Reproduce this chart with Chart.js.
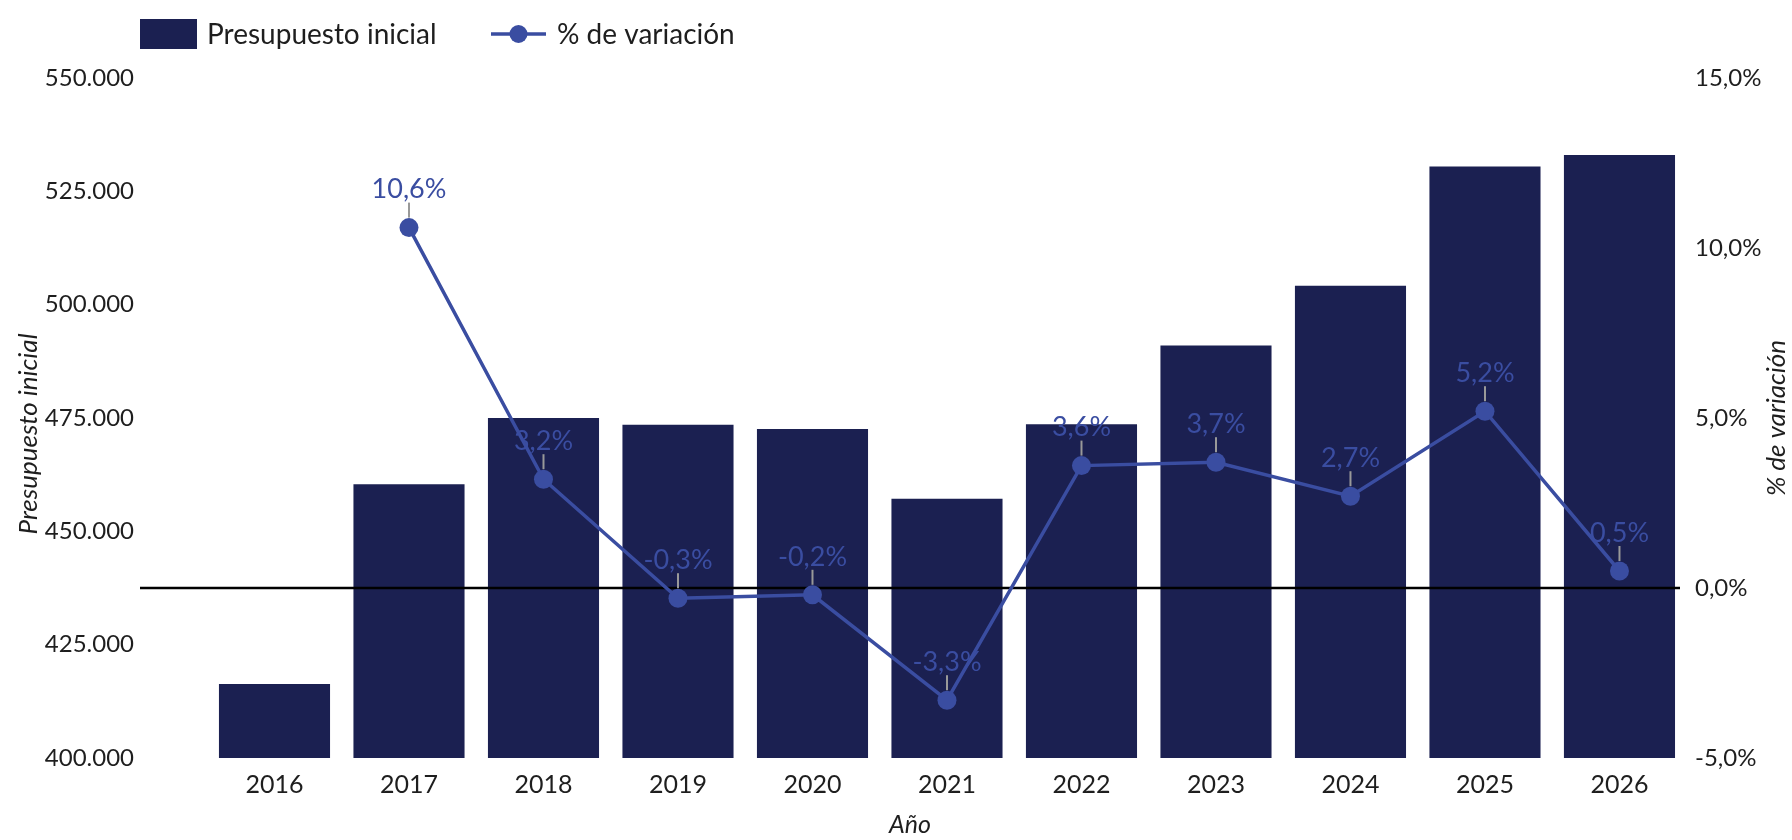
<!DOCTYPE html>
<html>
<head>
<meta charset="utf-8">
<script src="https://cdn.jsdelivr.net/npm/chart.js@4.4.0/dist/chart.umd.min.js"></script>
<style>
  html, body { margin: 0; padding: 0; background: #fff; }
  #wrap { width: 1792px; height: 840px; }
</style>
</head>
<body>
<div id="wrap"><canvas id="myChart" width="1792" height="840"></canvas></div>
<script>
(function () {
  'use strict'

// datos
var anios = [2016, 2017, 2018, 2019, 2020, 2021, 2022, 2023, 2024, 2025, 2026]
var presupuesto = [416300, 460400, 475000, 473500, 472600, 457200, 473600, 491000, 504200, 530500, 533000]
var variacion = [null, 10.6, 3.2, -0.3, -0.2, -3.3, 3.6, 3.7, 2.7, 5.2, 0.5]

var ticksIzq = [400000, 425000, 450000, 475000, 500000, 525000, 550000]
var ticksDer = [-5, 0, 5, 10, 15]

var colorBarra = '#1b2051'
var colorLinea = '#3a4da1'
var colorTexto = '#1e1e1e'

Chart.defaults.font.family = 'Lato'
Chart.defaults.color = colorTexto

function miles(v) {
  return String(Math.round(v)).replace(/\B(?=(\d{3})+(?!\d))/g, '.')
}
function pct(v) {
  return v.toFixed(1).replace('.', ',') + '%'
}

// linea del cero, encima de las barras y debajo de la linea
const lineaCero = {
  id: 'lineaCero',
  afterDatasetDraw(chart, args) {
    if (chart.data.datasets[args.index].type !== 'bar') return
    const ctx = chart.ctx
    const y = chart.scales.y1.getPixelForValue(0)
    ctx.save()
    ctx.strokeStyle = '#000'
    ctx.lineWidth = 2.5
    ctx.beginPath()
    ctx.moveTo(chart.chartArea.left, y)
    ctx.lineTo(chart.chartArea.right, y)
    ctx.stroke()
    ctx.restore()
  }
}

// etiquetas de % con su trazo gris
const etiquetas = {
  id: 'etiquetas',
  afterDatasetsDraw(chart) {
    const ctx = chart.ctx
    const meta = chart.getDatasetMeta(1)
    ctx.save()
    ctx.font = '27px Lato'
    ctx.textAlign = 'center'
    ctx.textBaseline = 'middle'
    meta.data.forEach((p, i) => {
      const v = variacion[i]
      if (v === null || v === undefined) return
      ctx.strokeStyle = '#999'
      ctx.lineWidth = 2
      ctx.beginPath()
      ctx.moveTo(p.x, p.y - 10)
      ctx.lineTo(p.x, p.y - 25)
      ctx.stroke()
      ctx.fillStyle = colorLinea
      ctx.fillText(pct(v), p.x, p.y - 38)
    })
    ctx.restore()
  }
}

// leyenda y titulos verticales
const extras = {
  id: 'extras',
  afterDraw(chart) {
    const ctx = chart.ctx
    const ds = chart.data.datasets
    ctx.save()
    ctx.font = '28px Lato'
    ctx.textBaseline = 'middle'
    ctx.textAlign = 'left'
    ctx.fillStyle = ds[0].backgroundColor
    ctx.fillRect(140, 19, 57, 30)
    ctx.fillStyle = colorTexto
    ctx.fillText(ds[0].label, 207, 35)

    ctx.strokeStyle = ds[1].borderColor
    ctx.lineWidth = 3.5
    ctx.beginPath()
    ctx.moveTo(491, 34)
    ctx.lineTo(546, 34)
    ctx.stroke()
    ctx.fillStyle = ds[1].borderColor
    ctx.beginPath()
    ctx.arc(518.5, 34, 9, 0, Math.PI * 2)
    ctx.fill()
    ctx.fillStyle = colorTexto
    ctx.fillText(ds[1].label, 557, 35)

    ctx.font = 'italic 26px Lato'
    ctx.textAlign = 'center'
    ctx.save()
    ctx.translate(29, 434)
    ctx.rotate(-Math.PI / 2)
    ctx.fillText(ds[0].label, 0, 0)
    ctx.restore()
    ctx.save()
    ctx.translate(1777, 418)
    ctx.rotate(-Math.PI / 2)
    ctx.fillText(ds[1].label, 0, 0)
    ctx.restore()
    ctx.restore()
  }
}

const ctx = document.getElementById('myChart').getContext('2d')

new Chart(ctx, {
  data: {
    datasets: [
      {
        type: 'bar',
        label: 'Presupuesto inicial',
        data: anios.map((a, i) => ({ x: a, y: presupuesto[i] })),
        backgroundColor: colorBarra,
        yAxisID: 'y',
        order: 1,
        barPercentage: 0.826,
        categoryPercentage: 1
      },
      {
        type: 'line',
        label: '% de variación',
        data: anios.map((a, i) => ({ x: a, y: variacion[i] })),
        borderColor: colorLinea,
        backgroundColor: colorLinea,
        borderWidth: 3.5,
        pointRadius: 9.5,
        pointBorderWidth: 0,
        yAxisID: 'y1',
        order: 0
      }
    ]
  },
  options: {
    responsive: false,
    animation: false,
    layout: { padding: { top: 78, left: 0, right: 0, bottom: 0 } },
    plugins: {
      legend: { display: false },
      tooltip: { enabled: false }
    },
    scales: {
      x: {
        type: 'linear',
        offset: false,
        min: 2015,
        max: 2026.45,
        grid: { display: false, drawTicks: false, offset: false },
        border: { display: false },
        ticks: {
          stepSize: 1,
          includeBounds: false,
          autoSkip: false,
          maxTicksLimit: 30,
          maxRotation: 0,
          padding: 12,
          font: { size: 25 },
          callback: v => anios.includes(v) ? String(v) : ''
        },
        title: { display: true, text: 'Año', font: { size: 25, style: 'italic' }, padding: { top: 0, bottom: 0 } },
        afterFit: s => { s.height = 82 }
      },
      y: {
        position: 'left',
        min: ticksIzq[0],
        max: ticksIzq[ticksIzq.length - 1],
        grid: { display: false, drawTicks: false },
        border: { display: false },
        afterBuildTicks: s => { s.ticks = ticksIzq.map(v => ({ value: v })) },
        ticks: { padding: 6, font: { size: 24 }, callback: v => miles(v) },
        afterFit: s => { s.width = 140 }
      },
      y1: {
        position: 'right',
        min: ticksDer[0],
        max: ticksDer[ticksDer.length - 1],
        grid: { display: false, drawTicks: false },
        border: { display: false },
        afterBuildTicks: s => { s.ticks = ticksDer.map(v => ({ value: v })) },
        ticks: { padding: 15, font: { size: 24 }, callback: v => pct(v) },
        afterFit: s => { s.width = 112 }
      }
    }
  },
  plugins: [lineaCero, etiquetas, extras]
})

})()
</script>
</body>
</html>
